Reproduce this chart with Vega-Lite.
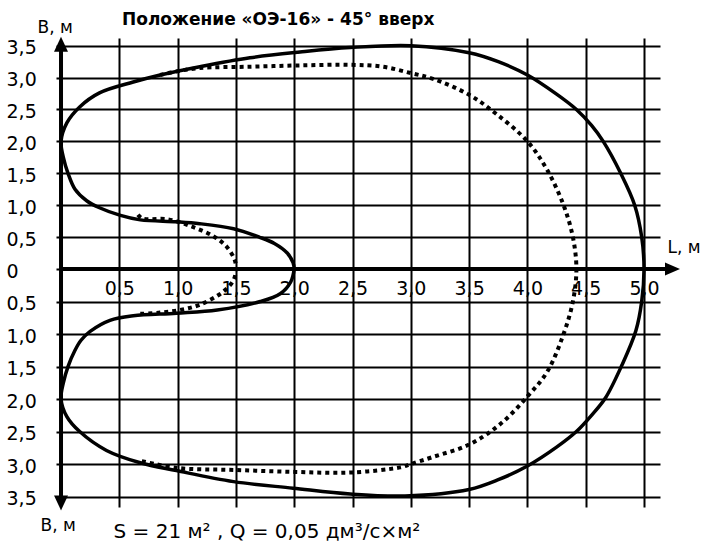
{
  "$schema": "https://vega.github.io/schema/vega-lite/v6.json",
  "width": 604,
  "height": 469,
  "autosize": {"type": "none"},
  "padding": {"left": 56, "top": 38, "right": 41, "bottom": 36},
  "background": "white",
  "config": {
    "font": "DejaVu Sans",
    "view": {"stroke": null},
    "axis": {"labelColor": "black", "titleColor": "black", "labelFont": "DejaVu Sans", "titleFont": "DejaVu Sans"}
  },
  "title": {
    "text": "Положение «ОЭ-16» - 45° вверх",
    "fontSize": 17,
    "fontWeight": "bold",
    "font": "DejaVu Sans",
    "color": "black",
    "anchor": "start",
    "frame": "group",
    "dx": 66,
    "offset": -24,
    "baseline": "alphabetic"
  },
  "datasets": {
    "axes": [
      {"L1": 0, "B1": -3.5, "L2": 0, "B2": 3.5},
      {"L1": 0, "B1": 0, "L2": 5.18, "B2": 0}
    ],
    "arrows": [
      {"dir": "up", "L": 0, "B": 3.523},
      {"dir": "down", "L": 0, "B": -3.597},
      {"dir": "right", "L": 5.244, "B": 0}
    ],
    "curves": [
      {"s": "solid", "i": 1, "L": 2.0, "B": 0},
      {"s": "solid", "i": 2, "L": 1.99, "B": 0.1},
      {"s": "solid", "i": 3, "L": 1.94, "B": 0.25},
      {"s": "solid", "i": 4, "L": 1.83, "B": 0.4},
      {"s": "solid", "i": 5, "L": 1.7, "B": 0.5},
      {"s": "solid", "i": 6, "L": 1.48, "B": 0.63},
      {"s": "solid", "i": 7, "L": 1.19, "B": 0.71},
      {"s": "solid", "i": 8, "L": 0.99, "B": 0.74},
      {"s": "solid", "i": 9, "L": 0.68, "B": 0.77},
      {"s": "solid", "i": 10, "L": 0.51, "B": 0.84},
      {"s": "solid", "i": 11, "L": 0.33, "B": 0.96},
      {"s": "solid", "i": 12, "L": 0.22, "B": 1.07},
      {"s": "solid", "i": 13, "L": 0.12, "B": 1.25},
      {"s": "solid", "i": 14, "L": 0.06, "B": 1.5},
      {"s": "solid", "i": 15, "L": 0.02, "B": 1.75},
      {"s": "solid", "i": 16, "L": 0.0, "B": 2.0},
      {"s": "solid", "i": 17, "L": 0.05, "B": 2.29},
      {"s": "solid", "i": 18, "L": 0.16, "B": 2.54},
      {"s": "solid", "i": 19, "L": 0.33, "B": 2.76},
      {"s": "solid", "i": 20, "L": 0.62, "B": 2.93},
      {"s": "solid", "i": 21, "L": 0.85, "B": 3.04},
      {"s": "solid", "i": 22, "L": 1.19, "B": 3.17},
      {"s": "solid", "i": 23, "L": 1.62, "B": 3.31},
      {"s": "solid", "i": 24, "L": 2.05, "B": 3.4},
      {"s": "solid", "i": 25, "L": 2.48, "B": 3.47},
      {"s": "solid", "i": 26, "L": 3.0, "B": 3.5},
      {"s": "solid", "i": 27, "L": 3.5, "B": 3.39},
      {"s": "solid", "i": 28, "L": 3.75, "B": 3.25},
      {"s": "solid", "i": 29, "L": 4.0, "B": 3.04},
      {"s": "solid", "i": 30, "L": 4.25, "B": 2.74},
      {"s": "solid", "i": 31, "L": 4.42, "B": 2.5},
      {"s": "solid", "i": 32, "L": 4.55, "B": 2.25},
      {"s": "solid", "i": 33, "L": 4.65, "B": 2.0},
      {"s": "solid", "i": 34, "L": 4.8, "B": 1.5},
      {"s": "solid", "i": 35, "L": 4.92, "B": 1.0},
      {"s": "solid", "i": 36, "L": 4.98, "B": 0.5},
      {"s": "solid", "i": 37, "L": 5.0, "B": 0},
      {"s": "solid", "i": 38, "L": 4.98, "B": -0.5},
      {"s": "solid", "i": 39, "L": 4.93, "B": -0.95},
      {"s": "solid", "i": 40, "L": 4.81, "B": -1.48},
      {"s": "solid", "i": 41, "L": 4.67, "B": -1.98},
      {"s": "solid", "i": 42, "L": 4.55, "B": -2.25},
      {"s": "solid", "i": 43, "L": 4.42, "B": -2.5},
      {"s": "solid", "i": 44, "L": 4.25, "B": -2.74},
      {"s": "solid", "i": 45, "L": 4.0, "B": -3.03},
      {"s": "solid", "i": 46, "L": 3.75, "B": -3.24},
      {"s": "solid", "i": 47, "L": 3.5, "B": -3.39},
      {"s": "solid", "i": 48, "L": 2.95, "B": -3.49},
      {"s": "solid", "i": 49, "L": 2.48, "B": -3.46},
      {"s": "solid", "i": 50, "L": 1.99, "B": -3.37},
      {"s": "solid", "i": 51, "L": 1.48, "B": -3.27},
      {"s": "solid", "i": 52, "L": 0.99, "B": -3.1},
      {"s": "solid", "i": 53, "L": 0.68, "B": -2.98},
      {"s": "solid", "i": 54, "L": 0.39, "B": -2.79},
      {"s": "solid", "i": 55, "L": 0.16, "B": -2.5},
      {"s": "solid", "i": 56, "L": 0.05, "B": -2.27},
      {"s": "solid", "i": 57, "L": 0.0, "B": -2.0},
      {"s": "solid", "i": 58, "L": 0.02, "B": -1.75},
      {"s": "solid", "i": 59, "L": 0.06, "B": -1.5},
      {"s": "solid", "i": 60, "L": 0.12, "B": -1.25},
      {"s": "solid", "i": 61, "L": 0.17, "B": -1.1},
      {"s": "solid", "i": 62, "L": 0.25, "B": -0.96},
      {"s": "solid", "i": 63, "L": 0.42, "B": -0.79},
      {"s": "solid", "i": 64, "L": 0.62, "B": -0.72},
      {"s": "solid", "i": 65, "L": 0.99, "B": -0.68},
      {"s": "solid", "i": 66, "L": 1.34, "B": -0.63},
      {"s": "solid", "i": 67, "L": 1.71, "B": -0.5},
      {"s": "solid", "i": 68, "L": 1.88, "B": -0.38},
      {"s": "solid", "i": 69, "L": 1.97, "B": -0.2},
      {"s": "solid", "i": 70, "L": 2.0, "B": 0},
      {"s": "inner", "i": 1, "L": 0.66, "B": 0.85},
      {"s": "inner", "i": 2, "L": 0.7, "B": 0.79},
      {"s": "inner", "i": 3, "L": 0.91, "B": 0.78},
      {"s": "inner", "i": 4, "L": 1.13, "B": 0.66},
      {"s": "inner", "i": 5, "L": 1.31, "B": 0.51},
      {"s": "inner", "i": 6, "L": 1.42, "B": 0.35},
      {"s": "inner", "i": 7, "L": 1.49, "B": 0.14},
      {"s": "inner", "i": 8, "L": 1.5, "B": 0},
      {"s": "inner", "i": 9, "L": 1.48, "B": -0.17},
      {"s": "inner", "i": 10, "L": 1.39, "B": -0.35},
      {"s": "inner", "i": 11, "L": 1.19, "B": -0.55},
      {"s": "inner", "i": 12, "L": 1.02, "B": -0.63},
      {"s": "inner", "i": 13, "L": 0.85, "B": -0.67},
      {"s": "inner", "i": 14, "L": 0.68, "B": -0.69},
      {"s": "outer", "i": 1, "L": 0.85, "B": 3.04},
      {"s": "outer", "i": 2, "L": 1.0, "B": 3.1},
      {"s": "outer", "i": 3, "L": 1.19, "B": 3.15},
      {"s": "outer", "i": 4, "L": 1.62, "B": 3.17},
      {"s": "outer", "i": 5, "L": 2.05, "B": 3.19},
      {"s": "outer", "i": 6, "L": 2.48, "B": 3.2},
      {"s": "outer", "i": 7, "L": 2.76, "B": 3.17},
      {"s": "outer", "i": 8, "L": 3.0, "B": 3.07},
      {"s": "outer", "i": 9, "L": 3.19, "B": 2.98},
      {"s": "outer", "i": 10, "L": 3.5, "B": 2.73},
      {"s": "outer", "i": 11, "L": 3.74, "B": 2.42},
      {"s": "outer", "i": 12, "L": 4.0, "B": 2.0},
      {"s": "outer", "i": 13, "L": 4.17, "B": 1.55},
      {"s": "outer", "i": 14, "L": 4.31, "B": 1.0},
      {"s": "outer", "i": 15, "L": 4.39, "B": 0.5},
      {"s": "outer", "i": 16, "L": 4.42, "B": 0},
      {"s": "outer", "i": 17, "L": 4.39, "B": -0.5},
      {"s": "outer", "i": 18, "L": 4.31, "B": -1.0},
      {"s": "outer", "i": 19, "L": 4.17, "B": -1.58},
      {"s": "outer", "i": 20, "L": 4.0, "B": -1.96},
      {"s": "outer", "i": 21, "L": 3.77, "B": -2.38},
      {"s": "outer", "i": 22, "L": 3.5, "B": -2.7},
      {"s": "outer", "i": 23, "L": 3.19, "B": -2.89},
      {"s": "outer", "i": 24, "L": 3.0, "B": -3.0},
      {"s": "outer", "i": 25, "L": 2.91, "B": -3.05},
      {"s": "outer", "i": 26, "L": 2.48, "B": -3.13},
      {"s": "outer", "i": 27, "L": 2.0, "B": -3.12},
      {"s": "outer", "i": 28, "L": 1.48, "B": -3.09},
      {"s": "outer", "i": 29, "L": 1.0, "B": -3.06},
      {"s": "outer", "i": 30, "L": 0.68, "B": -2.95}
    ]
  },
  "layer": [
    {
      "data": {"name": "axes"},
      "mark": {"type": "rule", "color": "black", "strokeWidth": 4},
      "encoding": {
        "x": {
          "field": "L1", "type": "quantitative",
          "scale": {"domain": [-0.043, 5.137], "nice": false, "zero": false},
          "axis": {
            "orient": "bottom", "values": [0.5, 1, 1.5, 2, 2.5, 3, 3.5, 4, 4.5, 5],
            "grid": true, "gridColor": "black", "gridWidth": 2, "gridOpacity": 1,
            "labels": false, "ticks": false, "domain": false, "title": null, "zindex": 0
          }
        },
        "x2": {"field": "L2"},
        "y": {
          "field": "B1", "type": "quantitative",
          "scale": {"domain": [-3.66, 0, 3.62], "range": [469, 231, 0], "nice": false, "zero": false},
          "axis": {
            "orient": "left",
            "values": [-3.5, -3, -2.5, -2, -1.5, -1, -0.5, 0, 0.5, 1, 1.5, 2, 2.5, 3, 3.5],
            "grid": true, "gridColor": "black", "gridWidth": 2, "gridOpacity": 1,
            "ticks": false, "tickSize": 0, "domain": false,
            "labelExpr": "datum.value == 0 ? '0' : replace(format(abs(datum.value), '.1f'), '.', ',')",
            "labelAlign": "left", "labelBaseline": "middle", "labelPadding": 50, "labelOffset": 2,
            "labelFontSize": 19,
            "title": "B, м", "titleAngle": 0, "titleX": -19, "titleY": -6,
            "titleAlign": "left", "titleBaseline": "alphabetic",
            "titleFontSize": 17, "titleFontWeight": "normal", "zindex": 0
          }
        },
        "y2": {"field": "B2"}
      }
    },
    {
      "data": {"name": "curves"},
      "transform": [{"filter": "datum.s == 'solid'"}],
      "mark": {"type": "line", "color": "black", "strokeWidth": 3.5, "interpolate": "catmull-rom"},
      "encoding": {
        "x": {
          "field": "L", "type": "quantitative",
          "axis": {
            "orient": "bottom", "offset": -238,
            "values": [0.5, 1, 1.5, 2, 2.5, 3, 3.5, 4, 4.5, 5],
            "grid": false, "ticks": false, "tickSize": 0, "domain": false,
            "labelExpr": "replace(format(datum.value, '.1f'), '.', ',')",
            "labelFontSize": 19, "labelPadding": 10, "labelDx": -6, "labelBaseline": "top",
            "title": "L, м", "titleX": 611, "titleY": -17, "titleAlign": "left",
            "titleBaseline": "alphabetic", "titleFontSize": 17, "titleFontWeight": "normal", "titleLimit": 1000,
            "zindex": 2
          }
        },
        "y": {
          "field": "B", "type": "quantitative",
          "axis": {
            "orient": "left", "labels": false, "ticks": false, "domain": false, "grid": false,
            "title": "B, м", "titleAngle": 0, "titleX": -16, "titleY": 492.7,
            "titleAlign": "left", "titleBaseline": "alphabetic",
            "titleFontSize": 17, "titleFontWeight": "normal"
          }
        },
        "order": {"field": "i", "type": "quantitative"}
      }
    },
    {
      "data": {"name": "curves"},
      "transform": [{"filter": "datum.s != 'solid'"}],
      "mark": {"type": "line", "color": "black", "strokeWidth": 4, "strokeDash": [4, 4], "strokeCap": "butt", "interpolate": "catmull-rom"},
      "encoding": {
        "x": {
          "field": "L", "type": "quantitative",
          "axis": {
            "orient": "bottom", "labels": false, "ticks": false, "domain": false, "grid": false,
            "title": "S = 21 м² , Q = 0,05 дм³/с×м²", "titleX": 57, "titleY": 30,
            "titleAlign": "left", "titleBaseline": "alphabetic",
            "titleFontSize": 20, "titleFontWeight": "normal", "titleLimit": 1000
          }
        },
        "y": {"field": "B", "type": "quantitative", "axis": null},
        "detail": {"field": "s"},
        "order": {"field": "i", "type": "quantitative"}
      }
    },
    {
      "data": {"name": "arrows"},
      "mark": {"type": "point", "filled": true, "color": "black", "opacity": 1, "size": 225, "strokeWidth": 0},
      "encoding": {
        "x": {"field": "L", "type": "quantitative", "axis": null},
        "y": {"field": "B", "type": "quantitative", "axis": null},
        "shape": {
          "field": "dir", "type": "nominal", "legend": null,
          "scale": {
            "domain": ["up", "down", "right"],
            "range": ["M0,-1L0.93,1L-0.93,1Z", "M0,1L0.93,-1L-0.93,-1Z", "M1,0L-1,0.87L-1,-0.87Z"]
          }
        }
      }
    }
  ],
  "resolve": {"axis": {"x": "independent", "y": "independent"}}
}
